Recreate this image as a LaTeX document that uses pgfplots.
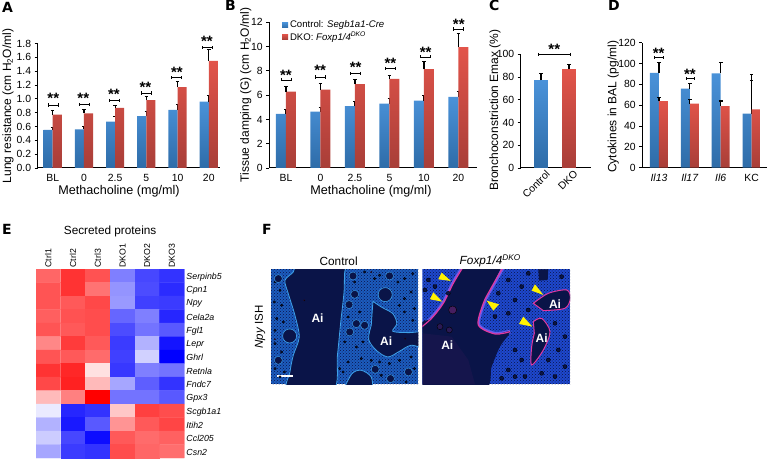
\documentclass[border=0pt]{standalone}
\usepackage{fontspec}
\setmainfont{Liberation Sans}
\newfontfamily\heavy{DejaVu Sans}
\usepackage{pgfplots}
\pgfplotsset{compat=1.18}
\usetikzlibrary{patterns}

\definecolor{blueT}{RGB}{74,146,217}
\definecolor{blueB}{RGB}{46,108,168}
\definecolor{redT}{RGB}{226,84,74}
\definecolor{redB}{RGB}{168,62,56}
\definecolor{navy}{RGB}{10,20,72}
\definecolor{tissue}{RGB}{28,92,190}
\definecolor{tissueB}{RGB}{30,72,205}
\definecolor{edge}{RGB}{62,160,232}
\definecolor{pinkedge}{RGB}{226,56,160}
\definecolor{halo}{RGB}{110,90,235}

\pgfplotsset{
  barpanel/.style={
    scale only axis, clip=false,
    axis x line*=bottom, axis y line*=left,
    axis line style={black, line width=1pt, -},
    tick style={black, line width=.9pt},
    major tick length=3pt, minor tick length=3pt,
    tick align=outside,
    xtick=data, xtick style={draw=none},
    minor x tick style={black, line width=.9pt},
    ytick pos=left,
    tick label style={font=\fontsize{10.4}{10}\selectfont, /pgf/number format/assume math mode=true},
    xlabel style={font=\fontsize{12.6}{13}\selectfont},
    ylabel style={font=\fontsize{12}{12}\selectfont},
    ymin=0,
  },
  upbars/.style={
    error bars/y dir=plus, error bars/y explicit,
    error bars/error bar style={black, line width=1.2pt},
    error bars/error mark options={black, line width=1.1pt, mark size=1.8pt, rotate=90}},
  ctrl/.style={ybar, draw=none, top color=blueT, bottom color=blueB, upbars},
  dko/.style={ybar, draw=none, top color=redT, bottom color=redB, upbars},
  micro/.style={scale only axis, width=147.7pt, height=115pt,
    ticks=none, axis line style={draw=none}, y dir=reverse, clip=true,
    title style={font=\fontsize{11.8}{12}\selectfont, at={(axis description cs:0.46,1)}, anchor=center, yshift=2.5pt}},
  colormap={bwr}{rgb255=(0,0,255) rgb255=(255,255,255) rgb255=(255,0,0)},
}

% bracket from x1 to x2 at height y, stars at (sx,sy)
\newcommand\sig[5]{%
  \addplot[black, line width=.6pt, mark=|, mark size=1.6pt, mark options={solid, line width=.6pt}, forget plot]
    coordinates {(#1,#3)(#2,#3)};
  \node[font=\bfseries\fontsize{15}{15}\selectfont, inner sep=0pt] at (axis cs:#4,#5) {**};
}
\newcommand\letter[3]{\node[font=\heavy\bfseries\fontsize{14}{14}\selectfont, anchor=north west, inner sep=0pt] at (#1,#2) {#3};}

\begin{document}
\begin{tikzpicture}[x=1pt,y=1pt]
\path[use as bounding box] (0,0) rectangle (768,460);

\letter{2}{458}{A}
\letter{225}{460}{B}
\letter{489}{460}{C}
\letter{608}{460}{D}
\letter{2}{236}{E}
\letter{262}{236}{F}

% ---- A
\begin{axis}[barpanel, at={(37.7pt,292pt)}, anchor=south west, width=182.3pt, height=124.5pt,
  xmin=-0.48, xmax=5.36, ymax=1.8,
  minor xtick={0.49,1.46,2.44,3.41,4.39,5.36},
  xticklabels={BL,0,2.5,5,10,20},
  ytick={0,0.2,...,1.8},
  yticklabel style={/pgf/number format/fixed, /pgf/number format/fixed zerofill, /pgf/number format/precision=1},
  ylabel={Lung resistance (cm H\textsubscript{2}O/ml)},
  ylabel style={at={(axis description cs:-0.163,0.498)}, anchor=center},
  xlabel={Methacholine (mg/ml)},
  xlabel style={at={(axis description cs:0.446,0)}, anchor=center, yshift=-23.7pt},
]
\addplot[ctrl, bar width=9.1pt, bar shift=-4.55pt] coordinates {
  (0,0.55) +- (0,0.04) (1,0.56) +- (0,0.04) (2,0.67) +- (0,0.07)
  (3,0.75) +- (0,0.07) (4,0.84) +- (0,0.08) (5,0.96) +- (0,0.09)};
\addplot[dko, bar width=9.1pt, bar shift=4.55pt] coordinates {
  (0,0.77) +- (0,0.06) (1,0.79) +- (0,0.06) (2,0.87) +- (0,0.04)
  (3,0.98) +- (0,0.05) (4,1.17) +- (0,0.08) (5,1.55) +- (0,0.16)};
\sig{-0.14}{0.18}{0.91}{0.02}{1.00}
\sig{0.84}{1.16}{0.92}{0.98}{1.00}
\sig{1.81}{2.13}{0.975}{1.96}{1.07}
\sig{2.83}{3.15}{1.085}{2.97}{1.17}
\sig{3.81}{4.13}{1.305}{3.98}{1.38}
\sig{4.80}{5.12}{1.74}{4.94}{1.83}
\end{axis}

% ---- B
\begin{axis}[barpanel, at={(269.3pt,292pt)}, anchor=south west, width=207.4pt, height=145.7pt,
  xmin=-0.484, xmax=5.53, ymax=12,
  minor xtick={0.516,1.516,2.516,3.516,4.516,5.516},
  xticklabels={BL,0,2.5,5,10,20},
  ytick={0,2,...,12},
  ylabel={Tissue damping (G) (cm H\textsubscript{2}O/ml)},
  ylabel style={at={(axis description cs:-0.114,0.5)}, anchor=center},
  xlabel={Methacholine (mg/ml)},
  xlabel style={at={(axis description cs:0.49,0)}, anchor=center, yshift=-23.7pt},
  legend style={at={(axis cs:-0.12,12.3)}, anchor=north west, draw=none, fill=none,
    font=\fontsize{9.6}{10}\selectfont, inner sep=0pt, row sep=-1.5pt,
    legend cell align=left},
  legend image code/.code={\fill[#1] (0pt,-2.7pt) rectangle (6pt,2.7pt);},
]
\addplot[ctrl, bar width=10pt, bar shift=-5pt] coordinates {
  (0,4.45) +- (0,0.35) (1,4.65) +- (0,0.30) (2,5.10) +- (0,0.40)
  (3,5.30) +- (0,0.40) (4,5.55) +- (0,0.40) (5,5.85) +- (0,0.45)};
\addplot[dko, bar width=10pt, bar shift=5pt] coordinates {
  (0,6.30) +- (0,0.40) (1,6.45) +- (0,0.50) (2,6.90) +- (0,0.40)
  (3,7.35) +- (0,0.30) (4,8.15) +- (0,0.65) (5,9.95) +- (0,1.10)};
\legend{Control: \textit{Segb1a1-Cre}, DKO: \textit{Foxp1/4\textsuperscript{DKO}}}
\sig{-0.15}{0.14}{7.26}{0.0}{7.62}
\sig{0.84}{1.13}{7.50}{0.99}{8.02}
\sig{1.87}{2.16}{7.78}{2.02}{8.32}
\sig{2.88}{3.17}{8.19}{3.03}{8.62}
\sig{3.90}{4.19}{9.15}{4.05}{9.52}
\sig{4.86}{5.15}{11.45}{5.01}{11.85}
\end{axis}

% ---- C
\begin{axis}[barpanel, at={(520.7pt,292pt)}, anchor=south west, width=70pt, height=113.7pt,
  xmin=-0.725, xmax=1.775, ymax=100,
  minor xtick={0.56,1.775},
  xtick={0,1},
  xticklabels={Control,DKO},
  xticklabel style={rotate=45, anchor=north east, inner sep=1pt, xshift=5pt, yshift=-1pt},
  ytick={0,20,...,100},
  ylabel={Bronchoconstriction Emax (\%)},
  ylabel style={at={(axis description cs:-0.367,0.51)}, anchor=center},
]
\addplot[ctrl, bar width=13.7pt, bar shift=0pt] coordinates {(0,77) +- (0,6)};
\addplot[dko, bar width=13.7pt, bar shift=0pt] coordinates {(1,87) +- (0,4)};
\addplot[black, line width=1pt, mark=|, mark size=1.5pt, mark options={solid, line width=1pt}]
  coordinates {(-0.1,100)(1.07,100)};
\node[font=\bfseries\fontsize{15}{15}\selectfont, inner sep=0pt] at (axis cs:0.475,104) {**};
\end{axis}

% ---- D
\begin{axis}[barpanel, at={(642.3pt,292.3pt)}, anchor=south west, width=124.7pt, height=125pt,
  xmin=-0.54, xmax=3.5, ymax=120,
  minor xtick={0.46,1.46,2.46,3.46},
  xticklabels={\textit{Il13},\textit{Il17},\textit{Il6},KC},
  ytick={0,20,...,120},
  ylabel={Cytokines in BAL (pg/ml)},
  ylabel style={at={(axis description cs:-0.233,0.486)}, anchor=center},
]
\addplot[ctrl, bar width=9pt, bar shift=-4.5pt] coordinates {
  (0,91) +- (0,10) (1,76) +- (0,4.5) (2,90.5) +- (0,10.5) (3,52) +- (0,31.5)};
\addplot[dko, bar width=9pt, bar shift=4.5pt] coordinates {
  (0,64) +- (0,3) (1,61.5) +- (0,4) (2,59) +- (0,5) (3,56) +- (0,33.5)};
\sig{-0.15}{0.14}{105.6}{-0.01}{110}
\sig{0.87}{1.14}{85.4}{1.0}{90}
\end{axis}

% ---- E
\begin{axis}[scale only axis, at={(36pt,2pt)}, anchor=south west, width=148.3pt, height=189pt,
  xmin=-0.5, xmax=5.5, ymin=-0.5, ymax=13.5, y dir=reverse,
  axis line style={draw=none}, tick style={draw=none},
  xtick={0,...,5}, ytick={0,...,13},
  xticklabel pos=top, yticklabel pos=right,
  xticklabels={Ctrl1,Ctrl2,Ctrl3,DKO1,DKO2,DKO3},
  yticklabels={Serpinb5,Cpn1,Npy,Cela2a,Fgl1,Lepr,Ghrl,Retnla,Fndc7,Gpx3,Scgb1a1,Itih2,Ccl205,Csn2},
  xticklabel style={rotate=90, anchor=west, font=\fontsize{8.7}{9}\selectfont, inner sep=1.5pt},
  yticklabel style={font=\itshape\fontsize{8.8}{9}\selectfont, inner sep=2pt, yshift=-1pt},
  colormap name=bwr, point meta min=-1, point meta max=1,
  title={Secreted proteins}, title style={font=\fontsize{11.8}{12}\selectfont, at={(axis description cs:0.5,1)}, anchor=center, yshift=32pt},
]
\addplot[matrix plot*, mesh/cols=6, point meta=explicit] table[meta=c] {
x y c
0 0 .60
1 0 .80
2 0 .68
3 0 -.50
4 0 -.72
5 0 -.80
0 1 .67
1 1 .80
2 1 .55
3 1 -.42
4 1 -.70
5 1 -.83
0 2 .67
1 2 .65
2 2 .72
3 2 -.40
4 2 -.75
5 2 -.77
0 3 .63
1 3 .68
2 3 .70
3 3 -.60
4 3 -.50
5 3 -.85
0 4 .67
1 4 .65
2 4 .70
3 4 -.70
4 4 -.55
5 4 -.65
0 5 .47
1 5 .77
2 5 .65
3 5 -.77
4 5 -.30
5 5 -.92
0 6 .67
1 6 .65
2 6 .58
3 6 -.75
4 6 -.18
5 6 -1.0
0 7 .80
1 7 .85
2 7 .12
3 7 -.78
4 7 -.50
5 7 -.55
0 8 .72
1 8 .87
2 8 .27
3 8 -.35
4 8 -.63
5 8 -.80
0 9 .27
1 9 .50
2 9 1.0
3 9 -.55
4 9 -.55
5 9 -.65
0 10 -.08
1 10 -.85
2 10 -.80
3 10 .22
4 10 .75
5 10 .70
0 11 -.30
1 11 -.90
2 11 -.65
3 11 .42
4 11 .65
5 11 .73
0 12 -.20
1 12 -.72
2 12 -.95
3 12 .65
4 12 .58
5 12 .62
0 13 -.35
1 13 -.77
2 13 -.80
3 13 .70
4 13 .60
5 13 .57
};
\end{axis}

% ---- F, control section
\begin{axis}[micro, at={(270.7pt,75.7pt)}, anchor=south west, xmin=17, xmax=462, ymin=22, ymax=367,
  title={Control}, ylabel={\textit{Npy} ISH},
  ylabel style={font=\fontsize{11.5}{12}\selectfont, at={(axis description cs:-0.072,0.5)}, anchor=center},
]
\addplot[draw=none, fill=tissue] coordinates {(17,22)(462,22)(462,367)(17,367)} --cycle;
\addplot[draw=none, pattern=crosshatch dots, pattern color=navy] coordinates {(17,22)(462,22)(462,367)(17,367)} --cycle;
\addplot[only marks, mark=*, mark size=1.2pt, mark options={draw=none, fill=navy}] coordinates {
  (30,60)(45,85)(28,120)(50,130)(35,170)(55,180)(30,205)(30,245)(50,270)(30,320)(58,330)(45,345)
  (235,330)(270,60)(300,30)(330,50)(345,40)(400,60)(420,50)(445,35)(440,90)(420,110)(450,140)
  (420,150)(445,175)(405,130)(250,165)(285,150)(240,240)(275,255)(295,240)(250,300)(290,290)
  (345,300)(375,305)(405,295)(440,285)(320,295)(225,320)(425,360)(450,320)(350,340)};
\addplot[only marks, mark=*, mark size=4pt, mark options={draw=edge, fill=navy, line width=.4pt}] coordinates {
  (265,42)(375,42)(270,97)(253,128)(275,185)(255,210)(40,50)(40,295)(332,322)(378,350)(432,330)(300,190)};
\addplot[only marks, mark=*, mark size=7pt, mark options={draw=edge, fill=navy, line width=.6pt}] coordinates {
  (74,222)(362,98)};
\addplot[smooth, draw=edge, line width=.8pt, fill=navy] coordinates {
  (90,5)(85,30)(60,55)(70,95)(90,160)(103,225)(85,280)(75,330)(70,385)(205,385)(218,280)(228,180)(238,90)(240,30)(250,5)} --cycle;
\addplot[smooth, draw=edge, line width=.8pt, fill=navy] coordinates {
  (325,118)(350,135)(385,155)(397,185)(385,208)(430,212)(490,212)(490,258)(440,250)(405,268)(370,285)(335,265)(312,232)(320,190)} --cycle;
\addplot[smooth, draw=edge, line width=.8pt, fill=navy] coordinates {
  (235,385)(262,335)(290,325)(320,345)(325,385)} --cycle;
\addplot[only marks, mark=*, mark size=.6pt, mark options={draw=none, fill=pinkedge}] coordinates {
  (118,115)(30,232)(422,230)(320,30)};
\addplot[white, line width=1.8pt] coordinates {(35,343)(85,343)};
\node[white, font=\bfseries\fontsize{12}{12}\selectfont] at (axis cs:158,168) {Ai};
\node[white, font=\bfseries\fontsize{12}{12}\selectfont] at (axis cs:365,238) {Ai};
\end{axis}

% ---- F, DKO section
\begin{axis}[micro, at={(422.3pt,75.7pt)}, anchor=south west, xmin=22, xmax=465, ymin=58, ymax=403,
  title={\textit{Foxp1/4\textsuperscript{DKO}}},
]
\addplot[draw=none, fill=tissueB] coordinates {(22,58)(465,58)(465,403)(22,403)} --cycle;
\addplot[draw=none, pattern=crosshatch dots, pattern color=navy] coordinates {(22,58)(465,58)(465,403)(22,403)} --cycle;
\addplot[only marks, mark=*, mark size=2pt, mark options={draw=none, fill=navy}] coordinates {
  (40,90)(60,110)(30,120)(100,130)(280,90)(320,110)(250,130)(300,150)(280,190)(340,180)
  (300,300)(320,330)(280,360)(300,380)(260,385)(330,380)(420,220)(450,260)(430,300)(450,350)
  (400,330)(420,380)(380,370)(340,70)(440,80)(240,200)};
\addplot[draw=none, fill=navy] coordinates {(370,58)(400,58)(398,90)(372,92)} --cycle;
% halo under the pink edge, half of it covered by the lumen fill
\addplot[smooth, draw=halo, line width=4pt] coordinates {(145,50)(115,100)(85,160)(50,205)(15,235)};
\addplot[smooth, draw=halo, line width=4pt] coordinates {(265,50)(228,115)(205,160)(190,225)(240,252)(285,245)};
\addplot[smooth, draw=none, fill=navy] coordinates {
  (150,40)(115,100)(85,160)(50,205)(10,235)(5,420)(205,420)(230,350)(255,290)(285,245)(240,252)(190,225)(205,160)(228,115)(265,40)} --cycle;
\addplot[draw=none, fill=pinkedge, fill opacity=.05] coordinates {(22,250)(110,260)(160,330)(180,403)(22,403)} --cycle;
\addplot[only marks, mark=*, mark size=4pt, mark options={draw=none, fill=pinkedge, fill opacity=.28}] coordinates {(113,180)};
\addplot[only marks, mark=*, mark size=3pt, mark options={draw=none, fill=pinkedge, fill opacity=.15}] coordinates {(103,240)(75,230)};
\addplot[smooth, draw=pinkedge, line width=1pt, fill=navy] coordinates {
  (355,160)(400,130)(455,120)(466,145)(450,175)(385,182)} --cycle;
\addplot[smooth, draw=pinkedge, line width=1pt, fill=navy] coordinates {
  (355,215)(380,205)(405,245)(385,300)(350,345)(350,290)(358,250)} --cycle;
\addplot[smooth, draw=pinkedge, line width=1.2pt] coordinates {
  (145,50)(115,100)(85,160)(50,205)(15,235)};
\addplot[smooth, draw=pinkedge, line width=1.2pt] coordinates {
  (265,50)(228,115)(205,160)(190,225)(240,252)(285,245)};
\addplot[draw=none, fill=yellow] coordinates {(108,93)(80,68)(70,88)} --cycle;
\addplot[draw=none, fill=yellow] coordinates {(82,155)(55,127)(45,148)} --cycle;
\addplot[draw=none, fill=yellow] coordinates {(252,163)(215,152)(235,182)} --cycle;
\addplot[draw=none, fill=yellow] coordinates {(352,230)(325,200)(312,222)} --cycle;
\addplot[draw=none, fill=yellow] coordinates {(385,135)(360,103)(350,122)} --cycle;
\node[white, font=\bfseries\fontsize{12}{12}\selectfont] at (axis cs:97,287) {Ai};
\node[white, font=\bfseries\fontsize{12}{12}\selectfont] at (axis cs:420,163) {Ai};
\node[white, font=\bfseries\fontsize{12}{12}\selectfont] at (axis cs:380,265) {Ai};
\end{axis}
\end{tikzpicture}
\end{document}
